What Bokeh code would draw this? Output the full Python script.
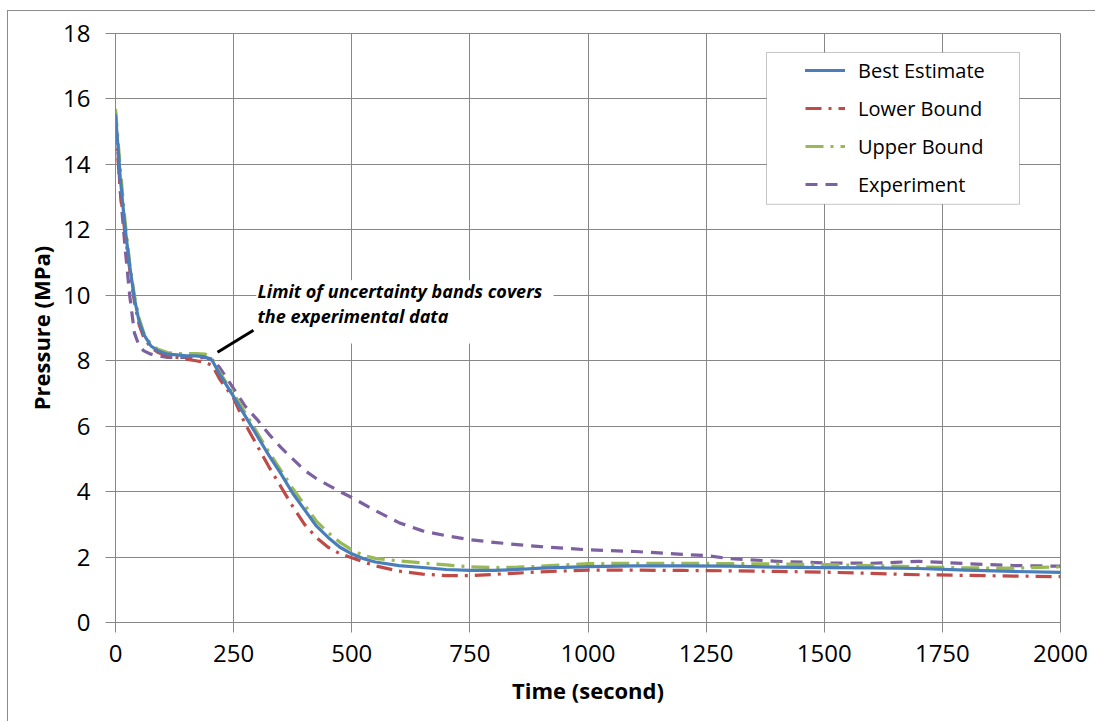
from bokeh.plotting import figure
from bokeh.models import Range1d, FixedTicker, Legend, LegendItem, Label, BoxAnnotation
from bokeh.embed import file_html
from bokeh.resources import INLINE

# ---------------- data ----------------
t_best = [0, 5, 10, 20, 30, 40, 50, 60, 75, 90, 110, 130, 150, 170, 190, 205, 220, 250, 275, 300,
          325, 350, 375, 400, 425, 450, 475, 500, 525, 550, 600, 650, 700, 750, 800, 850, 900,
          1000, 1100, 1200, 1300, 1400, 1500, 1600, 1700, 1800, 1900, 2000]
p_best = [15.5, 14.6, 13.6, 12.1, 10.9, 9.9, 9.2, 8.8, 8.45, 8.3, 8.2, 8.18, 8.15, 8.15, 8.12, 8.0, 7.6,
          6.9, 6.3, 5.7, 5.1, 4.55, 3.95, 3.45, 2.95, 2.6, 2.3, 2.1, 1.95, 1.85, 1.74, 1.68, 1.62,
          1.59, 1.59, 1.62, 1.66, 1.71, 1.73, 1.73, 1.72, 1.69, 1.68, 1.67, 1.65, 1.6, 1.56, 1.53]

t_lower = t_best
p_lower = [15.2, 14.2, 13.2, 11.9, 10.8, 9.8, 9.1, 8.7, 8.4, 8.25, 8.15, 8.1, 8.05, 8.0, 7.95, 7.85, 7.45,
           6.85, 6.05, 5.4, 4.75, 4.15, 3.55, 3.0, 2.6, 2.3, 2.1, 1.98, 1.85, 1.73, 1.57, 1.48, 1.43,
           1.43, 1.47, 1.51, 1.55, 1.6, 1.6, 1.59, 1.58, 1.56, 1.54, 1.5, 1.46, 1.44, 1.42, 1.4]

t_upper = t_best
p_upper = [15.7, 14.8, 13.9, 12.3, 11.0, 10.0, 9.3, 8.85, 8.5, 8.35, 8.25, 8.22, 8.22, 8.22, 8.2, 8.05, 7.65,
           7.0, 6.4, 5.8, 5.2, 4.65, 4.1, 3.6, 3.1, 2.75, 2.45, 2.22, 2.05, 1.96, 1.88, 1.82, 1.76,
           1.7, 1.68, 1.69, 1.72, 1.8, 1.81, 1.81, 1.8, 1.79, 1.77, 1.74, 1.7, 1.67, 1.66, 1.7]

t_exp = [0, 5, 10, 20, 30, 40, 50, 60, 75, 90, 110, 130, 150, 170, 190, 205, 220, 250, 275, 300,
         325, 350, 375, 400, 425, 450, 475, 500, 550, 600, 650, 700, 750, 800, 850, 900, 1000,
         1100, 1200, 1250, 1300, 1400, 1500, 1600, 1650, 1700, 1800, 1900, 2000]
p_exp = [15.6, 14.4, 13.2, 11.5, 10.0, 8.85, 8.45, 8.3, 8.2, 8.15, 8.1, 8.1, 8.1, 8.08, 8.1, 8.05, 7.8,
         7.15, 6.6, 6.2, 5.75, 5.35, 5.0, 4.65, 4.4, 4.2, 4.0, 3.82, 3.42, 3.05, 2.8, 2.65, 2.53,
         2.45, 2.38, 2.32, 2.22, 2.17, 2.08, 2.05, 1.95, 1.87, 1.82, 1.81, 1.84, 1.87, 1.8, 1.74, 1.72]

series_names = ["Best Estimate", "Lower Bound", "Upper Bound", "Experiment"]
x_ticks = [0, 250, 500, 750, 1000, 1250, 1500, 1750, 2000]
y_ticks = [0, 2, 4, 6, 8, 10, 12, 14, 16, 18]

annotation_lines = ["Limit of uncertainty bands covers", "the experimental data"]

# ---------------- styling ----------------
FONT = "Open Sans"
GRID = "#878787"

p = figure(width=1088, height=711, output_backend="svg", toolbar_location=None,
           x_range=Range1d(0, 2000), y_range=Range1d(0, 18),
           min_border_left=107, min_border_right=36, min_border_top=22, min_border_bottom=100,
           margin=(10, 0, 0, 7))
p.styles = {"border-left": "1px solid #8c8c8c", "border-top": "1px solid #8c8c8c"}
p.outline_line_color = GRID
p.background_fill_color = "white"
p.border_fill_color = "white"

for ax in (p.xaxis[0], p.yaxis[0]):
    ax.axis_line_color = GRID
    ax.major_tick_line_color = GRID
    ax.major_tick_out = 10
    ax.major_tick_in = 0
    ax.minor_tick_line_color = None
    ax.major_label_text_font = FONT
    ax.major_label_text_font_size = "24px"
    ax.major_label_text_color = "black"
    ax.axis_label_text_font = FONT
    ax.axis_label_text_font_size = "22px"
    ax.axis_label_text_font_style = "bold"
    ax.axis_label_text_color = "black"

p.xaxis.ticker = FixedTicker(ticks=x_ticks)
p.yaxis.ticker = FixedTicker(ticks=y_ticks)
p.xaxis.axis_label = "Time (second)"
p.yaxis.axis_label = "Pressure (MPa)"
p.xaxis.major_label_standoff = 12
p.yaxis.major_label_standoff = 15
p.xaxis.axis_label_standoff = 10
p.yaxis.axis_label_standoff = 4

p.xgrid.ticker = FixedTicker(ticks=x_ticks)
p.ygrid.ticker = FixedTicker(ticks=y_ticks)
p.xgrid.grid_line_color = GRID
p.ygrid.grid_line_color = GRID

colors = ["#4A7EBB", "#BE4B48", "#98B954", "#7D60A0"]
dashes = ["solid", "16 7 3 7", "18 7 3 7", "12 8"]
xs = [t_best, t_lower, t_upper, t_exp]
ys = [p_best, p_lower, p_upper, p_exp]
order = [3, 1, 2, 0]
renderers = {}
for i in order:
    renderers[i] = p.line(xs[i], ys[i], line_color=colors[i], line_width=3.2,
                          line_dash=dashes[i], line_join="round", line_cap="round" if i == 0 else "butt")

# callout
callout_x = [216, 292]
callout_y = [8.26, 8.93]
p.line(callout_x, callout_y, line_color="black", line_width=3)

text_box = BoxAnnotation(left=298, right=927, bottom=8.53, top=10.46,
                         fill_color="white", fill_alpha=1, line_color=None, level="annotation")
p.add_layout(text_box)
p.add_layout(Label(x=300.5, y=9.755, text=annotation_lines[0], text_font=FONT,
                   text_font_size="18px", text_font_style="bold italic", text_color="black"))
p.add_layout(Label(x=300.5, y=8.99, text=annotation_lines[1], text_font=FONT,
                   text_font_size="18px", text_font_style="bold italic", text_color="black"))

# legend box
legend_box = BoxAnnotation(left=1377.8, right=1913.2, bottom=12.78, top=17.42,
                           fill_color="white", fill_alpha=1, line_color="#404040", line_width=1,
                           level="annotation")
p.add_layout(legend_box)

legend = Legend(items=[LegendItem(label=series_names[i], renderers=[renderers[i]]) for i in range(4)],
                location=(690, 424), padding=0, border_line_color=None, background_fill_alpha=0,
                glyph_width=40, glyph_height=28, label_height=28, spacing=10, label_standoff=13,
                label_text_font=FONT, label_text_font_size="20px", label_text_color="black")
p.add_layout(legend)

open("out.html", "w").write(file_html(p, INLINE))
